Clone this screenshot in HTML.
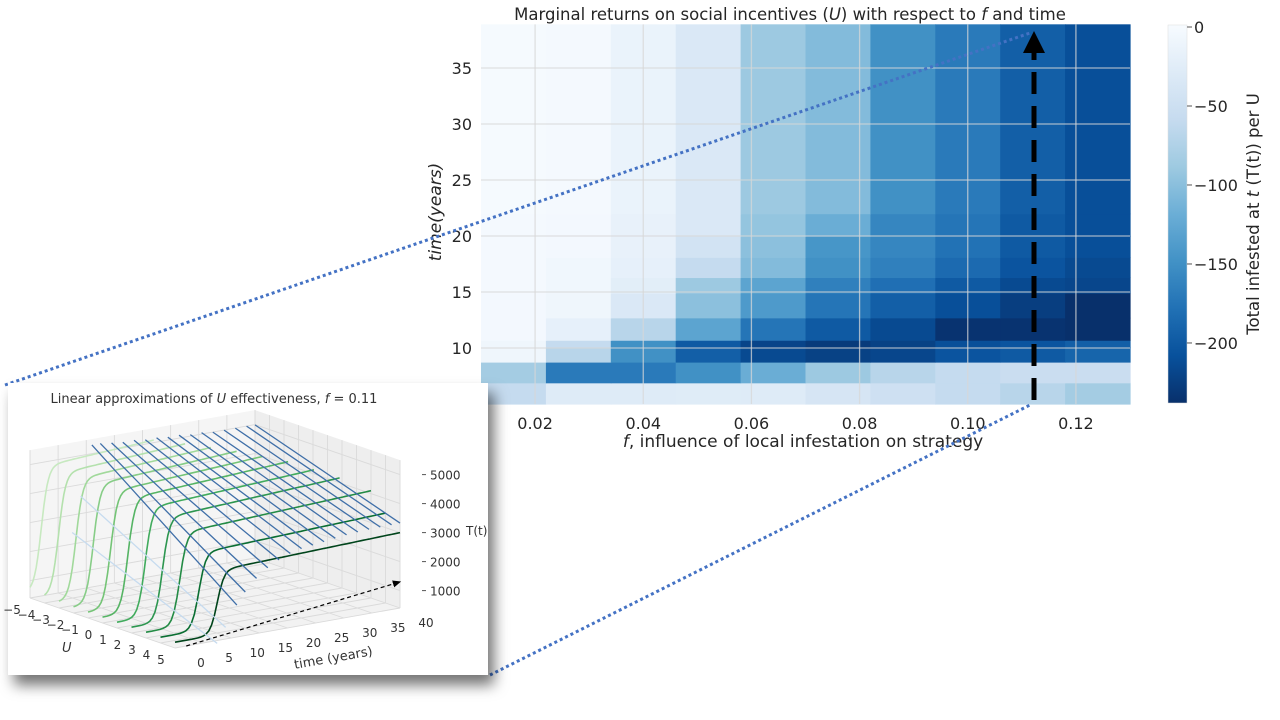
<!DOCTYPE html>
<html><head><meta charset="utf-8">
<style>
html,body{margin:0;padding:0;background:#fff;}
svg{display:block;font-family:"DejaVu Sans","Liberation Sans",sans-serif;}
</style></head>
<body>
<svg id="root" width="1280" height="720" viewBox="0 0 1280 720" xmlns="http://www.w3.org/2000/svg">
<defs>
<linearGradient id="cbgrad" x1="0" y1="0" x2="0" y2="1">
<stop offset="0" stop-color="#f7fbff"/><stop offset="0.125" stop-color="#deebf7"/><stop offset="0.25" stop-color="#c6dbef"/><stop offset="0.375" stop-color="#9ecae1"/><stop offset="0.5" stop-color="#6baed6"/><stop offset="0.625" stop-color="#4292c6"/><stop offset="0.75" stop-color="#2171b5"/><stop offset="0.875" stop-color="#08519c"/><stop offset="1" stop-color="#08306b"/>
</linearGradient>
<filter id="shadow" x="-10%" y="-10%" width="130%" height="140%"><feDropShadow dx="6" dy="10" stdDeviation="7" flood-color="#000" flood-opacity="0.55"/></filter>
<marker id="ahead" markerWidth="8" markerHeight="8" refX="6" refY="4" orient="auto"><path d="M0,1 L7,4 L0,7 Z" fill="#000"/></marker>
</defs>
<g id="heat"></g>
<g id="grid"></g>
<g id="axes"></g>
<g id="cbar"></g>
<line x1="1034" y1="400" x2="1034" y2="52" stroke="#000" stroke-width="5" stroke-dasharray="22 12"/>
<polygon points="1034,31 1023,53 1045,53" fill="#000"/>
<line x1="5" y1="385" x2="1030" y2="33" stroke="#4472c4" stroke-width="3" stroke-dasharray="3 3"/>
<line x1="490" y1="675" x2="1030" y2="405" stroke="#4472c4" stroke-width="3" stroke-dasharray="3 3"/>
<g id="inset">
<rect x="8" y="383" width="480" height="292" fill="#fff" filter="url(#shadow)"/>
</g>
</svg>
<script>
// ---------- heatmap data ----------
const fEdges = [0.01,0.022,0.034,0.046,0.058,0.07,0.082,0.094,0.106,0.118,0.13];
const tEdges = [5,6.9,8.75,10.1,10.7,12.7,14.9,16.3,18.1,20,22,38.9];
const row0 = [-60,-30,-30,-28,-30,-40,-50,-60,-70,-85];
const row1 = [-85,-170,-170,-150,-120,-90,-70,-60,-55,-55];
const row2 = [-10,-70,-150,-195,-215,-222,-218,-205,-200,-190];
const row3 = [-10,-60,-150,-200,-220,-228,-222,-210,-205,-195];
const row4 = [-5,-20,-70,-130,-175,-200,-215,-235,-235,-240];
const row5 = [-5,-10,-35,-100,-140,-175,-195,-210,-225,-240];
const row6 = [-3,-8,-25,-90,-130,-165,-180,-200,-215,-218];
const row7 = [-3,-8,-20,-60,-105,-150,-165,-185,-205,-215];
const row8 = [-3,-5,-18,-45,-100,-145,-160,-178,-200,-210];
const row9 = [-3,-5,-18,-35,-95,-120,-160,-175,-200,-210];
const row10 = [-2,-4,-15,-35,-90,-105,-150,-170,-195,-210];
const rows = [row0,row1,row2,row3,row4,row5,row6,row7,row8,row9,row10];
const xTicks = [0.02,0.04,0.06,0.08,0.10,0.12];
const xTickLabels = ["0.02","0.04","0.06","0.08","0.10","0.12"];
const yTicks = [10,15,20,25,30,35];
const cbTicks = [0,-50,-100,-150,-200];
const cbTickLabels = ["0","\u221250","\u2212100","\u2212150","\u2212200"];

// ---------- inset data ----------
const uVals = [-5,-4,-3,-2,-1,0,1,2,3,4,5];
const onsetT = [2,2.5,3,3.5,4,4.5,5,5.5,6,6.8,7.5];
const plateauT = [5300,5200,5150,5100,5000,4900,4700,4500,4100,3500,3000];
const endT = [22,25,27,29,31,33,35,37,40,40,40];
const blueT = [7.5,9,11,12.5,14.5,16.5,18.5,20.5,22.5,24.5,26.5,28.5,30.5,32.5,34.5,36.5,38.5,40];
const blueTA = [2400,3600,5300,5300,5250,5200,5200,5150,5150,5100,5100,5050,5050,5000,5000,5000,5000,4990];
const blueTB = [300,800,1500,1900,2300,2600,2800,2950,3050,3100,3150,3200,3250,3280,3300,3310,3320,3330];
const zTicks = [1000,2000,3000,4000,5000];
const tTicks3 = [0,5,10,15,20,25,30,35,40];
const uTicks3 = [-5,-4,-3,-2,-1,0,1,2,3,4,5];

const NS="http://www.w3.org/2000/svg";
function mk(tag, attrs, parent){const e=document.createElementNS(NS,tag);for(const k in attrs)e.setAttribute(k,attrs[k]);parent.appendChild(e);return e;}
const X0=481,X1=1130,Y10=348,PXY=11.2;
function xf(f){return X0+(f-0.01)/0.12*(X1-X0);}
function yt(t){return Y10-(t-10)*PXY;}
const VMIN=-238;
const stops=[[247,251,255],[222,235,247],[198,219,239],[158,202,225],[107,174,214],[66,146,198],[33,113,181],[8,81,156],[8,48,107]];
function cmap(v){let p=Math.max(0,Math.min(1,v/VMIN))*8;let i=Math.min(7,Math.floor(p));let r=p-i;const a=stops[i],b=stops[i+1];return "rgb("+a.map((c,k)=>Math.round(c+(b[k]-c)*r)).join(",")+")";}

const heat=document.getElementById('heat');
rows.forEach((row,ri)=>{row.forEach((v,ci)=>{
  const x=xf(fEdges[ci]),x2=xf(fEdges[ci+1]),y=yt(tEdges[ri+1]),y2=yt(tEdges[ri]);
  const r=mk('rect',{x:x,y:y,width:x2-x+0.6,height:y2-y+0.6,fill:cmap(v)},heat);
  
  
});});
const grid=document.getElementById('grid');
xTicks.forEach(f=>{const l=mk('line',{x1:xf(f),x2:xf(f),y1:yt(38.9),y2:yt(5),stroke:'rgba(215,215,215,0.75)','stroke-width':1.3},grid);
  });
yTicks.forEach(t=>{const l=mk('line',{x1:X0,x2:X1,y1:yt(t),y2:yt(t),stroke:'rgba(215,215,215,0.75)','stroke-width':1.3},grid);
  });
const axes=document.getElementById('axes');
xTicks.forEach((f,i)=>{const t=mk('text',{x:xf(f),y:429,'font-size':16,'text-anchor':'middle',fill:'#262626'},axes);t.textContent=xTickLabels[i];
  });
yTicks.forEach(v=>{const t=mk('text',{x:472,y:yt(v)+6,'font-size':16,'text-anchor':'end',fill:'#262626'},axes);t.textContent=v;
  });
let t=mk('text',{x:803,y:447,'font-size':17,'text-anchor':'middle',fill:'#262626'},axes);
t.innerHTML='<tspan font-style="italic">f</tspan>, influence of local infestation on strategy';

t=mk('text',{x:0,y:0,'font-size':17,'text-anchor':'middle',fill:'#262626','font-style':'italic',transform:'translate(441,212) rotate(-90)'},axes);
t.textContent='time(years)';

t=mk('text',{x:790,y:20,'font-size':16.5,'text-anchor':'middle',fill:'#262626'},axes);
t.innerHTML='Marginal returns on social incentives (<tspan font-style="italic">U</tspan>) with respect to <tspan font-style="italic">f</tspan> and time';


const cb=document.getElementById('cbar');
let r=mk('rect',{x:1168,y:25,width:19,height:378,fill:'url(#cbgrad)',stroke:'#ddd','stroke-width':0.5},cb);

function yc(v){return 27+v/VMIN*376;}
cbTicks.forEach((v,i)=>{mk('line',{x1:1187,x2:1192,y1:yc(v),y2:yc(v),stroke:'#555'},cb);
  const tt=mk('text',{x:1194,y:yc(v)+6,'font-size':16,fill:'#262626'},cb);tt.textContent=cbTickLabels[i];
  });
t=mk('text',{x:0,y:0,'font-size':16.5,'text-anchor':'middle',fill:'#262626',transform:'translate(1259,214) rotate(-90)'},cb);
t.innerHTML='Total infested at <tspan font-style="italic">t</tspan> (T(t)) per U';


// ---------- inset 3D ----------
const ins=document.getElementById('inset');
const OX=30,OY=598;
function P(u,tt,T){const uu=(u+5)/10;return [OX+uu*145+tt*5.625, OY+uu*50-tt*1.0-(T-400)*0.029];}
function poly(pts,attrs){const s=pts.map(p=>p[0].toFixed(1)+','+p[1].toFixed(1)).join(' ');return mk('polygon',Object.assign({points:s},attrs),ins);}
const TM=5500;
let pn=poly([P(-5,0,400),P(-5,40,400),P(5,40,400),P(5,0,400)],{fill:'#f2f2f2',stroke:'none'});

pn=poly([P(-5,0,400),P(-5,40,400),P(-5,40,TM),P(-5,0,TM)],{fill:'#f5f5f5',stroke:'none'});

pn=poly([P(-5,40,400),P(5,40,400),P(5,40,TM),P(-5,40,TM)],{fill:'#eeeeee',stroke:'none'});

function ln(a,b,attrs){return mk('line',Object.assign({x1:a[0],y1:a[1],x2:b[0],y2:b[1]},attrs),ins);}
const gst={stroke:'#dadada','stroke-width':0.9};
tTicks3.forEach(v=>{ln(P(-5,v,400),P(5,v,400),gst);ln(P(-5,v,400),P(-5,v,TM),gst);});
uTicks3.forEach(v=>{ln(P(v,0,400),P(v,40,400),gst);ln(P(v,40,400),P(v,40,TM),gst);});
zTicks.forEach(v=>{ln(P(-5,0,v),P(-5,40,v),gst);ln(P(-5,40,v),P(5,40,v),gst);});
const greens=[[199,233,192],[180,225,173],[161,217,155],[135,205,135],[116,196,118],[85,180,100],[65,171,93],[45,150,80],[35,139,69],[10,110,50],[0,68,27]];
uVals.forEach((u,i)=>{let d='';for(let k=0;k<=80;k++){const tt=k*endT[i]/80;
  const s=1/(1+Math.exp(-(tt-onsetT[i])*1.6));const T=600+(plateauT[i]-600)*s*(0.9+0.1*tt/40);
  const p=P(u,tt,T);d+=(k?'L':'M')+p[0].toFixed(1)+','+p[1].toFixed(1);}
  const c=greens[i];const pth=mk('path',{d:d,fill:'none',stroke:'rgb('+c.join(',')+')','stroke-width':1.6},ins);
  });
blueT.forEach((tt,i)=>{const a=P(-5,tt,blueTA[i]),b=P(5,tt,blueTB[i]);
  const l=ln(a,b,{stroke:i<2?'#c6dbef':'#3f6fa8','stroke-width':1.3});
  });
let da=ln(P(5,2,400),P(5,40,1300),{stroke:'#000','stroke-width':1.2,'stroke-dasharray':'4 3','marker-end':'url(#ahead)'});

function txt(x,y,s,size,attrs){const e=mk('text',Object.assign({x:x,y:y,'font-size':size,fill:'#333'},attrs||{}),ins);e.textContent=s;return e;}
zTicks.forEach(v=>{const p=P(5,40,v);const e=txt(p[0]+30,p[1]+5,v,12);
  
  ln([p[0]+22,p[1]],[p[0]+26,p[1]],{stroke:'#555'});});
txt(466,535,'T(t)',12);
tTicks3.forEach(v=>{const p=P(5,v,400);const e=txt(p[0]+26,p[1]+19,v,12,{'text-anchor':'middle'});
  });
uTicks3.forEach(v=>{const p=P(v,0,400);const e=txt(p[0]-14+(v<0?-4:0),p[1]+16,v<0?'\u2212'+(-v):v,12,{'text-anchor':'middle'});
  });
let e=txt(62,652,'U',13,{'font-style':'italic'});
e=txt(0,0,'time (years)',13,{'text-anchor':'middle',transform:'translate(334,662) rotate(-10)'});
e=mk('text',{x:214,y:403,'font-size':13,fill:'#333','text-anchor':'middle'},ins);
e.innerHTML='Linear approximations of <tspan font-style="italic">U</tspan> effectiveness, <tspan font-style="italic">f</tspan> = 0.11';

</script>
</body></html>
